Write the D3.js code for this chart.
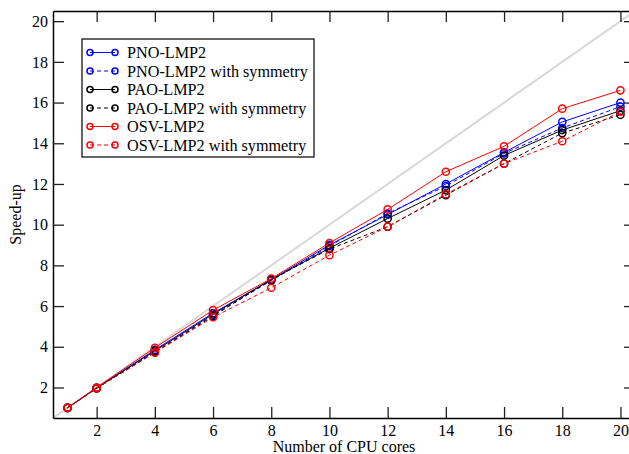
<!DOCTYPE html>
<html>
<head>
<meta charset="utf-8">
<script src="https://cdn.jsdelivr.net/npm/d3@7"></script>
<style>
  body { margin: 0; background: #fff; }
  svg { display: block; font-family: 'Liberation Serif', 'Times New Roman', serif; }
</style>
</head>
<body>
<div id="chart"></div>
<script>
const cores = [1, 2, 4, 6, 8, 10, 12, 14, 16, 18, 20]
const xTicks = [2, 4, 6, 8, 10, 12, 14, 16, 18, 20]
const yTicks = [2, 4, 6, 8, 10, 12, 14, 16, 18, 20]

const pno = [1, 1.98, 3.85, 5.65, 7.3, 9.0, 10.5, 12.0, 13.55, 15.05, 16.0]
const pnoSym = [1, 1.97, 3.75, 5.55, 7.25, 8.95, 10.55, 11.9, 13.5, 14.75, 15.8]
const pao = [1, 1.97, 3.8, 5.6, 7.3, 8.85, 10.3, 11.7, 13.4, 14.65, 15.6]
const paoSym = [1, 1.96, 3.72, 5.5, 7.3, 8.8, 9.9, 11.45, 13.0, 14.5, 15.4]
const osv = [1, 2.0, 3.95, 5.8, 7.35, 9.1, 10.75, 12.6, 13.85, 15.7, 16.6]
const osvSym = [1, 1.96, 3.72, 5.45, 6.9, 8.5, 9.9, 11.5, 13.0, 14.1, 15.55]

const series = [
  { name: 'PNO-LMP2', values: pno, color: '#0000ff', dash: null },
  { name: 'PNO-LMP2 with symmetry', values: pnoSym, color: '#0000ff', dash: '4,3' },
  { name: 'PAO-LMP2', values: pao, color: '#000000', dash: null },
  { name: 'PAO-LMP2 with symmetry', values: paoSym, color: '#000000', dash: '4,3' },
  { name: 'OSV-LMP2', values: osv, color: '#ff0000', dash: null },
  { name: 'OSV-LMP2 with symmetry', values: osvSym, color: '#ff0000', dash: '4,3' },
]

const W = 629, H = 454
const margin = { top: 11, right: -6, bottom: 36, left: 53 }
const width = W - margin.left - margin.right
const height = H - margin.top - margin.bottom

const svg = d3.select('#chart').append('svg')
  .attr('width', W).attr('height', H)

const g = svg.append('g')
  .attr('transform', `translate(${margin.left},${margin.top})`)

const x = d3.scaleLinear().domain([0.5, 20.5]).range([0, width])
const y = d3.scaleLinear().domain([0.5, 20.5]).range([height, 0])

// ideal speed-up
g.append('line')
  .attr('x1', x(0.5)).attr('y1', y(0.5))
  .attr('x2', x(20.5)).attr('y2', y(20.5))
  .attr('stroke', '#d8d8d8').attr('stroke-width', 2)

const line = d3.line().x((d, i) => x(cores[i])).y(d => y(d))

series.forEach(s => {
  g.append('path')
    .datum(s.values)
    .attr('d', line)
    .attr('fill', 'none')
    .attr('stroke', s.color)
    .attr('stroke-width', 1)
    .attr('stroke-dasharray', s.dash)
  g.selectAll(null)
    .data(s.values)
    .enter()
    .append('circle')
    .attr('cx', (d, i) => x(cores[i]))
    .attr('cy', d => y(d))
    .attr('r', 3.6)
    .attr('fill', 'none')
    .attr('stroke', s.color)
    .attr('stroke-width', 1.5)
})

// axes, ticks inward
const styleAxis = (a) => {
  a.select('.domain').attr('stroke', '#000').attr('stroke-width', 1.5)
  a.selectAll('.tick line').attr('stroke', '#222').attr('stroke-width', 1.3)
  a.selectAll('.tick text').attr('font-size', 16).attr('fill', '#000')
    .attr('font-family', "'Liberation Serif', serif")
}

g.append('g')
  .attr('transform', `translate(0,${height})`)
  .call(d3.axisBottom(x).tickValues(xTicks).tickSizeInner(-11).tickSizeOuter(0).tickPadding(7))
  .call(styleAxis)
g.append('g')
  .call(d3.axisTop(x).tickValues(xTicks).tickSizeInner(-11).tickSizeOuter(0).tickFormat(''))
  .call(styleAxis)
g.append('g')
  .call(d3.axisLeft(y).tickValues(yTicks).tickSizeInner(-11).tickSizeOuter(0).tickPadding(5))
  .call(styleAxis)
g.append('g')
  .attr('transform', `translate(${width},0)`)
  .call(d3.axisRight(y).tickValues(yTicks).tickSizeInner(-11).tickSizeOuter(0).tickFormat(''))
  .call(styleAxis)

// axis titles
svg.append('text')
  .attr('x', margin.left + width / 2).attr('y', 452)
  .attr('text-anchor', 'middle').attr('font-size', 16)
  .text('Number of CPU cores')
svg.append('text')
  .attr('transform', `translate(21,${margin.top + height / 2}) rotate(-90)`)
  .attr('text-anchor', 'middle').attr('font-size', 16)
  .text('Speed-up')

// legend
const legend = svg.append('g').attr('transform', 'translate(82,39)')
legend.append('rect')
  .attr('width', 232).attr('height', 118)
  .attr('fill', '#fff').attr('stroke', '#000').attr('stroke-width', 1.2)
const rowY = d3.scaleLinear().domain([0, 5]).range([13.5, 106])
series.forEach((s, i) => {
  const ry = rowY(i)
  const row = legend.append('g').attr('transform', `translate(0,${ry})`)
  row.append('line')
    .attr('x1', 8).attr('x2', 33)
    .attr('stroke', s.color).attr('stroke-width', 1)
    .attr('stroke-dasharray', s.dash)
  ;[8, 33].forEach(cx => {
    row.append('circle').attr('cx', cx).attr('cy', 0).attr('r', 3)
      .attr('fill', 'none').attr('stroke', s.color).attr('stroke-width', 1.5)
  })
  row.append('text')
    .attr('x', 45).attr('y', 0).attr('dy', '0.35em')
    .attr('font-size', 16.2)
    .text(s.name)
})
</script>
</body>
</html>
